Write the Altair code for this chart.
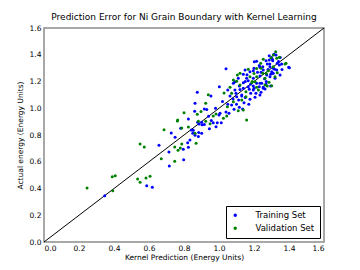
import altair as alt
import pandas as pd

train_pts = [
    (0.347,0.346),(0.587,0.421),(0.619,0.409),(0.657,0.723),(0.716,0.568),(0.714,0.673),
    (0.798,0.615),(0.796,0.693),(0.825,0.708),(0.821,0.742),(0.834,0.763),(0.727,0.815),
    (0.781,0.85),(0.749,0.783),(0.863,0.798),(0.85,0.813),(0.882,0.788),(0.853,0.835),
    (0.884,0.818),(0.901,0.813),(0.886,0.882),(0.903,0.877),(0.916,0.879),(0.945,0.847),
    (0.983,0.862),(0.99,0.892),
    (1.002,1.161),(0.876,1.119),(0.954,1.092),(0.863,1.037),(0.861,0.977),(0.916,0.995),
    (0.825,0.92),(0.878,0.895),(0.901,0.895),(0.842,0.837),(0.956,0.908),(1.006,0.962),
    (1.013,0.892),(1.04,0.972),(1.072,1.024),(1.097,1.112),(1.063,1.092),(1.05,1.136),
    (1.082,1.187),(1.116,1.166),(1.139,1.191),(1.167,1.206),(1.196,1.166),(1.173,1.142),
    (1.13,1.092),(1.112,1.062),(1.143,1.042),(1.116,1.007),(1.086,0.992),(1.057,0.962),
    (1.177,1.067),(1.211,1.112),(1.234,1.187),(1.253,1.157),(1.269,1.181),(0.967,0.892),
    (1.135,0.994),(1.04,1.296),
    (1.398,1.306),(1.345,1.323),(1.326,1.398),(1.307,1.356),(1.287,1.361),(1.269,1.356),
    (1.202,1.348),(1.215,1.351),(1.276,1.331),(1.291,1.311),(1.33,1.286),(1.301,1.273),
    (1.253,1.286),(1.234,1.306),(1.196,1.281),(1.177,1.273),(1.149,1.286),(1.139,1.254),
    (1.11,1.224),(1.091,1.199),(1.158,1.224),(1.196,1.224),(1.234,1.241),(1.273,1.249),
    (1.291,1.236),(1.305,1.261),(1.349,1.249),(1.244,1.187),(1.215,1.187),(1.167,1.161),
    (1.139,1.149),(1.091,1.136),(1.101,1.086),(1.13,1.099),(1.181,1.112),(1.196,1.136),
    (1.253,1.149),(1.206,1.082),(1.234,1.099),
    (1.314,1.403),(1.305,1.366),(1.333,1.336),(1.358,1.331),(1.318,1.291),(1.31,1.261),
    (1.32,1.224),(1.295,1.166),(1.263,1.144),(1.295,1.254),(1.287,1.393),(1.402,1.303),
    (1.22,1.27),(1.25,1.31),(1.28,1.29),(1.26,1.22),(1.24,1.27),(1.29,1.33),(1.31,1.3),
    (1.34,1.35),(1.36,1.29),(1.27,1.2),(1.23,1.16),(1.18,1.18),(1.15,1.2),(1.12,1.14),
    (1.16,1.25),(1.2,1.3),(1.23,1.32),(1.3,1.38),(1.35,1.38),(0.98,1.0),(1.02,1.05),
    (1.05,1.03),(1.08,1.07),(1.0,0.95),(0.94,0.94),(0.93,0.99),(1.1,1.03),(1.15,1.08),
    (1.17,1.03),(1.2,1.15),(1.24,1.12),
]

val_pts = [
    (0.246,0.404),(0.393,0.384),(0.39,0.488),(0.407,0.496),(0.535,0.471),(0.583,0.479),
    (0.606,0.491),(0.549,0.446),(0.549,0.733),(0.573,0.71),(0.67,0.623),(0.747,0.603),
    (0.747,0.71),(0.766,0.686),(0.779,0.703),(0.787,0.733),(0.869,0.738),(0.762,0.905),
    (0.686,0.84),(0.787,0.852),(0.825,0.86),(0.924,0.902),(0.882,0.902),(0.949,0.884),
    (0.764,0.912),
    (0.939,1.101),(0.8,0.967),(0.924,1.037),(0.876,0.955),(0.897,0.975),(0.863,0.813),
    (0.967,0.942),(0.983,0.957),(1.025,0.925),(1.048,1.012),(1.082,1.049),(1.029,1.114),
    (1.063,1.157),(1.101,1.201),(1.154,1.124),(1.13,1.062),(1.139,0.987),(1.044,0.942),
    (1.215,1.157),(1.206,1.199),(1.276,1.166),(1.158,0.912),(1.11,0.982),
    (1.377,1.331),(1.31,1.398),(1.33,1.373),(1.297,1.378),(1.253,1.366),(1.238,1.336),
    (1.31,1.311),(1.282,1.281),(1.215,1.298),(1.167,1.291),(1.12,1.261),(1.105,1.249),
    (1.082,1.211),(1.177,1.236),(1.215,1.236),(1.25,1.261),(1.263,1.224),(1.32,1.236),
    (1.301,1.169),(1.263,1.174),(1.187,1.191),(1.12,1.174),(1.072,1.112),(1.154,1.086),
    (1.225,1.136),(1.286,1.194),
    (1.324,1.423),(1.345,1.381),(1.383,1.336),(1.333,1.266),
    (1.24,1.3),(1.27,1.26),(1.2,1.26),(1.19,1.2),
]

train_x = [p[0] for p in train_pts]
train_y = [p[1] for p in train_pts]
val_x = [p[0] for p in val_pts]
val_y = [p[1] for p in val_pts]

series_names = ["Training Set", "Validation Set"]
series_colors = ["#0000ff", "#008000"]
ticks = [0.0, 0.2, 0.4, 0.6, 0.8, 1.0, 1.2, 1.4, 1.6]
diag = [0.0, 1.6]

df = pd.concat([
    pd.DataFrame({"x": train_x, "y": train_y, "set": series_names[0], "order": 0}),
    pd.DataFrame({"x": val_x, "y": val_y, "set": series_names[1], "order": 1}),
], ignore_index=True)
line_df = pd.DataFrame({"x": diag, "y": diag})

font = "DejaVu Sans"
xscale = alt.Scale(domain=[0, 1.6], nice=False, zero=False)
yscale = alt.Scale(domain=[0, 1.6], nice=False, zero=False)

xaxis = alt.Axis(title="Kernel Prediction (Energy Units)", values=ticks, format=".1f",
                 grid=False, domain=False, ticks=False, labelFontSize=7.5,
                 titleFontSize=7.5, labelFont=font, titleFont=font, titleFontWeight="normal",
                 labelColor="black", titleColor="black", labelPadding=2, titlePadding=2)
yaxis = alt.Axis(title="Actual energy (Energy Units)", values=ticks, format=".1f",
                 grid=False, domain=False, ticks=False, labelFontSize=7.5,
                 titleFontSize=7.5, labelFont=font, titleFont=font, titleFontWeight="normal",
                 labelColor="black", titleColor="black", labelPadding=3, titlePadding=5)

line = alt.Chart(line_df).mark_line(color="black", strokeWidth=1).encode(
    x=alt.X("x:Q", scale=xscale, axis=xaxis),
    y=alt.Y("y:Q", scale=yscale, axis=yaxis),
)

points = alt.Chart(df).mark_circle(size=9, opacity=1).encode(
    x=alt.X("x:Q", scale=xscale, axis=xaxis),
    y=alt.Y("y:Q", scale=yscale, axis=yaxis),
    color=alt.Color("set:N", scale=alt.Scale(domain=series_names, range=series_colors),
                    legend=alt.Legend(title=None, orient="bottom-right", offset=4,
                                      strokeColor="black", fillColor="white", padding=5,
                                      symbolType="circle", symbolSize=12, labelFontSize=8.5,
                                      labelOffset=16, labelFont=font, labelColor="black",
                                      rowPadding=4)),
    order=alt.Order("order:Q"),
)

chart = (line + points).properties(
    width=280, height=214,
    title=alt.TitleParams("Prediction Error for Ni Grain Boundary with Kernel Learning",
                          fontSize=9, font=font, fontWeight="normal", color="black", offset=2),
    autosize=alt.AutoSizeParams(type="none"),
    padding={"left": 36, "top": 20, "right": 28, "bottom": 20},
).configure_view(stroke="#8c8c8c", strokeWidth=1.5)

chart.save("out.html", embed_options={"renderer": "svg", "actions": False})
